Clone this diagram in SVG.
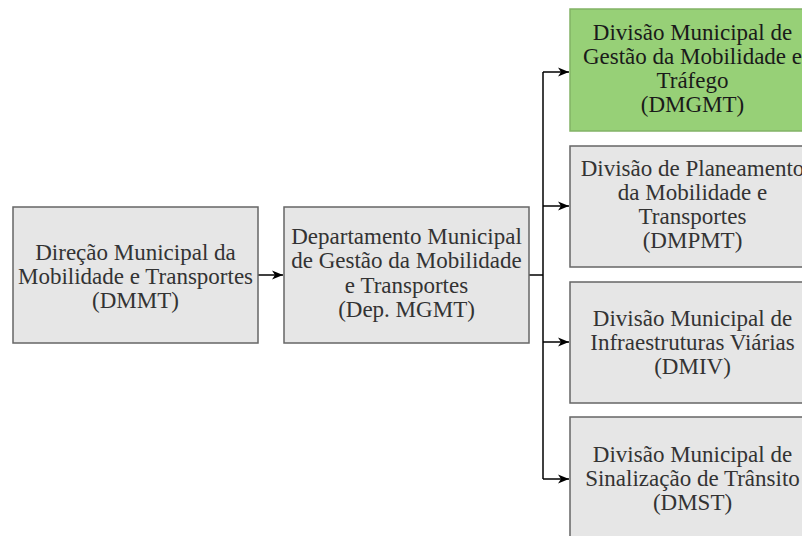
<svg xmlns="http://www.w3.org/2000/svg" width="802" height="536" viewBox="0 0 802 536">
<defs>
<marker id="arr" markerWidth="12" markerHeight="12" refX="11" refY="6" orient="auto" markerUnits="userSpaceOnUse">
<path d="M0,1.5 L11,6 L0,10.5 L3,6 Z" fill="#000"/>
</marker>
<style>
.box{fill:#e6e6e6;stroke:#666;stroke-width:1.5}
.green{fill:#97d077;stroke:#82b366;stroke-width:1.5}
.t{font-family:"Liberation Serif","Times New Roman",serif;font-size:23px;fill:#333;text-anchor:middle}
.tg{fill:#1a1a1a}
.c{fill:none;stroke:#000;stroke-width:1.5}
</style>
</defs>
<rect width="802" height="536" fill="#fff"/>
<g id="connectors">
<path class="c" d="M258,275 H283" marker-end="url(#arr)"/>
<path class="c" d="M529,275 H543"/>
<path class="c" d="M543,72 V479"/>
<path class="c" d="M543,72 H569" marker-end="url(#arr)"/>
<path class="c" d="M543,206 H569" marker-end="url(#arr)"/>
<path class="c" d="M543,342 H569" marker-end="url(#arr)"/>
<path class="c" d="M543,479 H569" marker-end="url(#arr)"/>
</g>
<g id="dmmt">
<rect class="box" x="13" y="207" width="245" height="136"/>
<text class="t" x="135.5" y="260">Direção Municipal da</text>
<text class="t" x="135.5" y="284">Mobilidade e Transportes</text>
<text class="t" x="135.5" y="308">(DMMT)</text>
</g>
<g id="depmgmt">
<rect class="box" x="284" y="207" width="245" height="136"/>
<text class="t" x="406.5" y="244">Departamento Municipal</text>
<text class="t" x="406.5" y="268">de Gestão da Mobilidade</text>
<text class="t" x="406.5" y="293">e Transportes</text>
<text class="t" x="406.5" y="317">(Dep. MGMT)</text>
</g>
<g id="dmgmt">
<rect class="green" x="570" y="9" width="245" height="122"/>
<text class="t tg" x="692.5" y="40">Divisão Municipal de</text>
<text class="t tg" x="692.5" y="64">Gestão da Mobilidade e</text>
<text class="t tg" x="692.5" y="88">Tráfego</text>
<text class="t tg" x="692.5" y="112">(DMGMT)</text>
</g>
<g id="dmpmt">
<rect class="box" x="570" y="146" width="245" height="121"/>
<text class="t" x="692.5" y="176">Divisão de Planeamento</text>
<text class="t" x="692.5" y="200">da Mobilidade e</text>
<text class="t" x="692.5" y="224">Transportes</text>
<text class="t" x="692.5" y="248">(DMPMT)</text>
</g>
<g id="dmiv">
<rect class="box" x="570" y="282" width="245" height="121"/>
<text class="t" x="692.5" y="326">Divisão Municipal de</text>
<text class="t" x="692.5" y="350">Infraestruturas Viárias</text>
<text class="t" x="692.5" y="374">(DMIV)</text>
</g>
<g id="dmst">
<rect class="box" x="570" y="417" width="245" height="122"/>
<text class="t" x="692.5" y="462">Divisão Municipal de</text>
<text class="t" x="692.5" y="486">Sinalização de Trânsito</text>
<text class="t" x="692.5" y="510">(DMST)</text>
</g>
</svg>
